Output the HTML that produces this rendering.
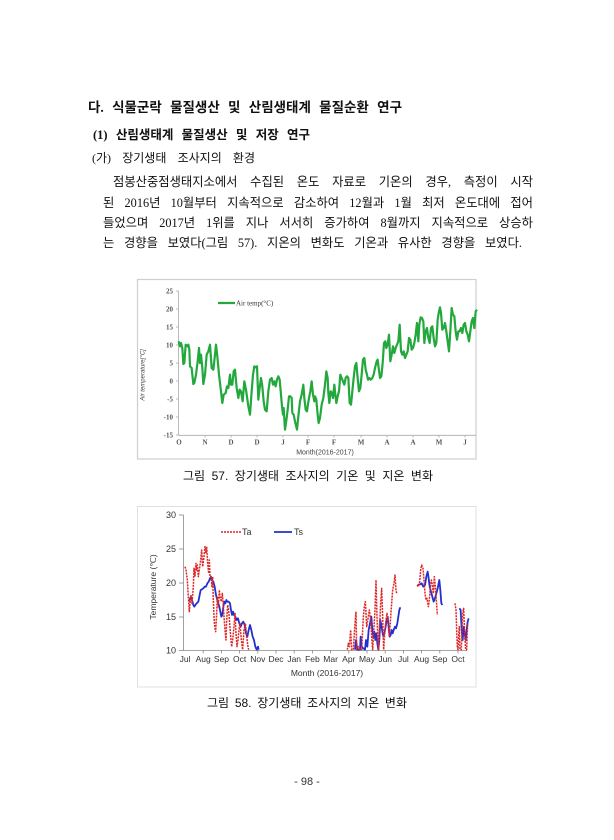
<!DOCTYPE html>
<html><head><meta charset="utf-8">
<style>
html,body{margin:0;padding:0;background:#fff;}
body{width:614px;height:840px;position:relative;overflow:hidden;}
.t{position:absolute;line-height:20px;color:#111;text-align:justify;text-align-last:justify;text-justify:inter-word;}
.s{font-family:"Liberation Serif","Noto Sans CJK KR",sans-serif;}
.g{font-family:"Liberation Sans","Noto Sans CJK KR",sans-serif;}
svg{position:absolute;left:0;top:0;}
</style></head><body>
<svg width="614" height="840" viewBox="0 0 614 840" xmlns="http://www.w3.org/2000/svg">
<!-- Chart 1 -->
<rect x="137.5" y="279.5" width="338.5" height="179.5" fill="#fff" stroke="#cfcfcf" stroke-width="1.2"/>
<g stroke="#aaa" stroke-width="0.8">
<line x1="178.5" y1="291" x2="178.5" y2="435.3"/>
<line x1="178.5" y1="435.3" x2="476" y2="435.3"/>
<line x1="176" y1="291" x2="178.5" y2="291"/><line x1="176" y1="309" x2="178.5" y2="309"/>
<line x1="176" y1="327" x2="178.5" y2="327"/><line x1="176" y1="345" x2="178.5" y2="345"/>
<line x1="176" y1="363" x2="178.5" y2="363"/><line x1="176" y1="381" x2="178.5" y2="381"/>
<line x1="176" y1="399" x2="178.5" y2="399"/><line x1="176" y1="417" x2="178.5" y2="417"/>
<line x1="176" y1="435" x2="178.5" y2="435"/>
<line x1="205" y1="435" x2="205" y2="437.5"/><line x1="231" y1="435" x2="231" y2="437.5"/>
<line x1="257" y1="435" x2="257" y2="437.5"/><line x1="283" y1="435" x2="283" y2="437.5"/>
<line x1="308" y1="435" x2="308" y2="437.5"/><line x1="334" y1="435" x2="334" y2="437.5"/>
<line x1="361" y1="435" x2="361" y2="437.5"/><line x1="387" y1="435" x2="387" y2="437.5"/>
<line x1="413" y1="435" x2="413" y2="437.5"/><line x1="439" y1="435" x2="439" y2="437.5"/>
<line x1="465" y1="435" x2="465" y2="437.5"/>
</g>
<g font-family="Liberation Serif, serif" font-size="7" fill="#555" text-anchor="end" font-weight="bold">
<text x="173" y="293.5">25</text><text x="173" y="311.5">20</text><text x="173" y="329.5">15</text>
<text x="173" y="347.5">10</text><text x="173" y="365.5">5</text><text x="173" y="383.5">0</text>
<text x="173" y="401.5">-5</text><text x="173" y="419.5">-10</text><text x="173" y="437.5">-15</text>
</g>
<g font-family="Liberation Serif, serif" font-size="7" fill="#555" text-anchor="middle" font-weight="bold">
<text x="179" y="444.5">O</text><text x="205" y="444.5">N</text><text x="231" y="444.5">D</text>
<text x="257" y="444.5">D</text><text x="283" y="444.5">J</text><text x="308" y="444.5">F</text>
<text x="334" y="444.5">F</text><text x="361" y="444.5">M</text><text x="387" y="444.5">A</text>
<text x="413" y="444.5">A</text><text x="439" y="444.5">M</text><text x="465" y="444.5">J</text>
</g>
<text x="325" y="454.5" font-family="Liberation Sans, sans-serif" font-size="7" fill="#444" text-anchor="middle">Month(2016-2017)</text>
<text transform="translate(144.5,375) rotate(-90)" font-family="Liberation Sans, sans-serif" font-size="6" fill="#444" text-anchor="middle" font-style="italic">Air temperature[°C]</text>
<line x1="218" y1="303" x2="235" y2="303" stroke="#22a83c" stroke-width="2.2"/>
<text x="236" y="305.5" font-family="Liberation Serif, serif" font-size="7" fill="#333">Air temp(°C)</text>
<g transform="translate(135,278) scale(0.33333)">
<polyline fill="none" stroke="#22a83c" stroke-width="6.6" stroke-linejoin="round" points="131,190 135,205 138,195 142,210 145,258 148,255 152,200 158,205 160,200 163,215 165,265 170,270 175,318 178,315 183,290 188,250 192,210 195,255 198,230 202,270 205,318 210,290 215,230 220,220 225,200 230,270 235,275 240,230 243,200 247,235 252,290 258,340 262,375 266,350 272,345 276,325 280,330 285,290 288,320 292,320 296,280 300,275 305,330 310,360 314,335 318,340 323,370 328,310 333,335 340,385 345,410 350,340 354,290 358,265 362,268 366,265 370,365 374,330 378,300 382,325 386,370 390,395 395,400 400,340 405,305 410,300 414,320 418,310 422,325 426,305 430,295 434,305 438,350 441,385 444,410 446,390 450,455 455,420 458,395 462,355 466,355 470,360 472,405 476,410 480,430 486,455 490,415 495,370 500,350 505,320 508,360 512,395 516,400 518,385 522,360 526,340 530,310 534,350 538,370 540,355 544,365 548,410 551,435 555,420 560,380 565,360 570,320 574,280 578,300 580,345 583,375 587,340 591,345 594,360 598,320 601,350 604,375 608,355 612,340 616,290 620,300 624,310 628,320 632,300 636,295 640,300 644,375 648,380 652,340 656,300 660,265 664,255 668,300 672,340 676,330 680,290 684,245 688,240 692,275 696,290 699,305 703,300 707,305 712,300 716,290 720,270 725,250 728,245 731,270 735,300 739,295 743,255 747,195 751,190 754,210 758,200 762,170 766,250 770,230 774,205 778,225 782,210 786,200 790,190 794,140 798,220 802,230 806,220 810,240 814,230 818,220 822,180 826,185 830,215 834,210 838,195 842,170 846,135 850,190 853,140 857,118 861,120 865,130 868,195 872,160 876,150 880,180 884,195 888,150 892,145 896,180 900,205 904,195 908,125 912,100 915,88 918,105 922,155 926,150 930,135 934,160 938,190 942,220 946,160 950,90 954,110 958,115 962,160 966,185 970,160 974,160 978,150 982,165 986,140 990,135 994,160 998,170 1002,190 1006,160 1010,130 1014,120 1018,150 1022,100 1026,95"/>
</g>

<!-- Chart 2 -->
<rect x="137.5" y="506.5" width="338.5" height="180.5" fill="#fff" stroke="#e0e0e0" stroke-width="1"/>
<g stroke="#888" stroke-width="0.8">
<line x1="183.5" y1="515" x2="183.5" y2="650.5"/>
<line x1="183.5" y1="650.5" x2="467" y2="650.5"/>
<line x1="179" y1="515" x2="183.5" y2="515"/><line x1="179" y1="549" x2="183.5" y2="549"/>
<line x1="179" y1="583" x2="183.5" y2="583"/><line x1="179" y1="617" x2="183.5" y2="617"/>
<line x1="179" y1="650.5" x2="183.5" y2="650.5"/>
<line x1="203.2" y1="650" x2="203.2" y2="653.5"/><line x1="221.4" y1="650" x2="221.4" y2="653.5"/>
<line x1="239.6" y1="650" x2="239.6" y2="653.5"/><line x1="257.8" y1="650" x2="257.8" y2="653.5"/>
<line x1="276" y1="650" x2="276" y2="653.5"/><line x1="294.2" y1="650" x2="294.2" y2="653.5"/>
<line x1="312.4" y1="650" x2="312.4" y2="653.5"/><line x1="330.6" y1="650" x2="330.6" y2="653.5"/>
<line x1="348.8" y1="650" x2="348.8" y2="653.5"/><line x1="367" y1="650" x2="367" y2="653.5"/>
<line x1="385.2" y1="650" x2="385.2" y2="653.5"/><line x1="403.4" y1="650" x2="403.4" y2="653.5"/>
<line x1="421.6" y1="650" x2="421.6" y2="653.5"/><line x1="439.8" y1="650" x2="439.8" y2="653.5"/>
<line x1="458" y1="650" x2="458" y2="653.5"/>
</g>
<g font-family="Liberation Sans, sans-serif" font-size="9" fill="#333" text-anchor="end">
<text x="176" y="518.2">30</text><text x="176" y="552.2">25</text><text x="176" y="586.2">20</text>
<text x="176" y="620.2">15</text><text x="176" y="653.5">10</text>
</g>
<g font-family="Liberation Sans, sans-serif" font-size="8.5" fill="#333" text-anchor="middle">
<text x="185" y="662">Jul</text><text x="203.2" y="662">Aug</text><text x="221.4" y="662">Sep</text>
<text x="239.6" y="662">Oct</text><text x="257.8" y="662">Nov</text><text x="276" y="662">Dec</text>
<text x="294.2" y="662">Jan</text><text x="312.4" y="662">Feb</text><text x="330.6" y="662">Mar</text>
<text x="348.8" y="662">Apr</text><text x="367" y="662">May</text><text x="385.2" y="662">Jun</text>
<text x="403.4" y="662">Jul</text><text x="421.6" y="662">Aug</text><text x="439.8" y="662">Sep</text>
<text x="458" y="662">Oct</text>
</g>
<text x="327" y="676" font-family="Liberation Sans, sans-serif" font-size="8.5" fill="#333" text-anchor="middle">Month (2016-2017)</text>
<text transform="translate(156,587) rotate(-90)" font-family="Liberation Sans, sans-serif" font-size="8.5" fill="#333" text-anchor="middle">Temperature (℃)</text>
<line x1="221" y1="532" x2="241" y2="532" stroke="#e02424" stroke-width="1.5" stroke-dasharray="2,1"/>
<text x="242" y="535.2" font-family="Liberation Sans, sans-serif" font-size="9" fill="#333">Ta</text>
<line x1="274" y1="532" x2="292" y2="532" stroke="#2230d0" stroke-width="1.8"/>
<text x="294" y="535.2" font-family="Liberation Sans, sans-serif" font-size="9" fill="#333">Ts</text>
<g transform="translate(135,500) scale(0.33333)" fill="none" stroke-linejoin="round">
<g stroke="#2230d0" stroke-width="5.4">
<polyline points="163,305 165,295 168,292 171,300 175,315 178,320 181,315 185,310 190,305 193,290 197,270 201,268 205,265 209,260 213,260 217,250 221,245 225,235 228,230 231,240 235,245 239,260 243,285 247,300 250,310 253,320 256,335 259,350 262,345 265,320 268,305 271,310 274,300 277,305 281,305 285,310 288,330 291,345 294,335 297,345 301,350 305,360 309,355 313,370 317,380 321,370 325,365 329,375 333,400 337,410 341,390 345,375 349,390 353,410 357,420 361,440 365,449 369,440 371,449"/>
<polyline points="660,449 663,420 667,449 675,449 677,410 680,440 685,445 690,449 693,420 697,440 701,390 705,370 709,350 712,390 715,410 718,395 721,420 724,400 727,430 730,449 733,420 736,360 739,375 742,395 745,410 748,400 751,385 755,360 758,350 761,380 764,410 767,405 770,390 773,400 776,390 780,380 783,385 787,370 790,350 793,330 796,322"/>
<polyline points="848,255 855,253 860,250 865,260 870,255 874,230 878,215 881,235 884,260 888,275 892,290 896,305 900,295 904,280 908,265 911,250 913,240 916,270 919,310 922,315"/>
<polyline points="973,325 977,330 980,390 983,420 986,380 989,400 992,420 995,390 998,365 1001,355"/>
</g>
<g stroke="#e02424" stroke-width="4.5" stroke-dasharray="6,3">
<polyline points="150,200 153,210 157,240 160,290 163,335 165,310 168,285 171,310 175,260 177,205 180,230 183,190 185,210 187,195 190,230 193,210 197,180 200,150 203,200 207,170 210,140 213,160 215,140 218,190 221,220 223,180 225,230 228,230 231,260 233,230 235,300 237,350 239,380 242,395 245,340 247,290 250,320 253,270 255,290 259,305 262,280 265,320 267,350 270,390 273,420 275,360 278,315 281,330 284,370 287,410 290,440 293,420 297,380 300,340 303,400 306,440 309,420 312,390 315,370 319,420 323,449 327,390 331,370 335,410 339,440 341,449"/>
<polyline points="637,449 640,430 643,440 647,390 650,449 655,449 660,370 663,335 665,449 670,440 675,449 680,449 685,350 688,320 691,305 693,340 695,380 700,350 703,330 707,360 710,410 713,449 717,380 720,330 723,240 726,350 729,430 731,449 733,390 737,310 740,265 743,350 746,449 749,400 753,360 756,340 760,380 763,410 767,350 770,310 773,270 777,250 780,225 783,270 785,280"/>
<polyline points="846,255 850,260 854,245 857,210 860,195 864,205 867,240 870,280 873,300 876,295 880,320 883,300 886,260 889,240 892,255 895,280 898,230 901,260 904,300 907,345"/>
<polyline points="960,310 963,330 965,390 967,440 969,449 971,410 973,380 975,449 979,449 983,340 986,325 989,400 992,449 995,449 998,370"/>
</g>
</g>
</svg>

<div class="t s" style="left:88px;top:98px;width:314px;font-size:13.5px;font-weight:bold;">다. 식물군락 물질생산 및 산림생태계 물질순환 연구</div>
<div class="t s" style="left:93px;top:125px;width:217px;font-size:12.5px;font-weight:bold;">(1) 산림생태계 물질생산 및 저장 연구</div>
<div class="t s" style="left:92px;top:148px;width:163px;font-size:12px;">(가) 장기생태 조사지의 환경</div>
<div class="t s" style="left:113px;top:172px;width:420px;font-size:12.3px;">점봉산중점생태지소에서 수집된 온도 자료로 기온의 경우, 측정이 시작</div>
<div class="t s" style="left:103px;top:193px;width:430px;font-size:12.3px;">된 2016년 10월부터 지속적으로 감소하여 12월과 1월 최저 온도대에 접어</div>
<div class="t s" style="left:103px;top:213px;width:430px;font-size:12.3px;">들었으며 2017년 1위를 지나 서서히 증가하여 8월까지 지속적으로 상승하</div>
<div class="t s" style="left:103px;top:233px;width:419px;font-size:12.3px;">는 경향을 보였다(그림 57). 지온의 변화도 기온과 유사한 경향을 보였다.</div>
<div class="t g" style="left:183px;top:466px;width:250px;font-size:12px;">그림 57. 장기생태 조사지의 기온 및 지온 변화</div>
<div class="t g" style="left:207px;top:693px;width:200px;font-size:12px;">그림 58. 장기생태 조사지의 지온 변화</div>
<div class="t g" style="left:277px;top:772px;width:60px;font-size:11px;text-align:center;text-align-last:center;color:#333;">- 98 -</div>
</body></html>
